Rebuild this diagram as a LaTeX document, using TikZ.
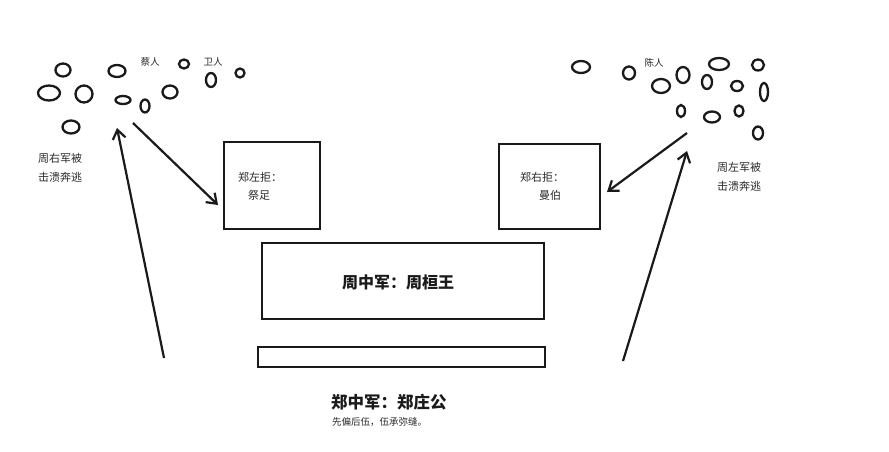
\documentclass[tikz,border=0pt]{standalone}
\usepackage{fontspec}
\setmainfont{Noto Sans CJK SC}
\usetikzlibrary{arrows.meta,shapes.geometric}
\definecolor{ink}{HTML}{1A1A1A}
\definecolor{txt}{HTML}{2A2A2A}
\tikzset{
  box/.style={draw=ink, line width=2.8pt, fill=white, inner sep=0pt},
  small/.style={font=\fontsize{11}{12}\selectfont, text=txt, inner sep=0pt},
  tiny/.style={font=\fontsize{9.5}{10}\selectfont, text=txt, inner sep=0pt},
  big/.style={font=\fontsize{16}{17}\selectfont\bfseries, text=ink, inner sep=0pt},
  troop/.style={draw=ink, line width=2.3pt},
  arr/.style={draw=ink, line width=2.2pt, -{Straight Barb[length=9pt,width=13pt,line width=2.2pt]}}
}
\begin{document}
\begin{tikzpicture}[x=1pt,y=-1pt]
\useasboundingbox[fill=white] (0,0) rectangle (889,451);
% boxes
\node[box, minimum width=96pt, minimum height=87pt] (zuo) at (272,185.5) {};
\node[box, minimum width=101pt, minimum height=85pt] (you) at (549.5,186.5) {};
\node[box, minimum width=282pt, minimum height=76pt] (zhou) at (403,281) {};
\node[box, minimum width=287pt, minimum height=20pt] (zheng) at (401.5,357) {};
% box texts
\node[small, anchor=west] (zuo1) at (238,177) {郑左拒：};
\node[small] (zuo2) at (259,195) {祭足};
\node[small, anchor=west] (you1) at (520,177) {郑右拒：};
\node[small] (you2) at (550,195) {曼伯};
\node[big] (zhoutxt) at (398,282) {周中军：周桓王};
\node[big, anchor=west, font=\fontsize{16.5}{17}\selectfont\bfseries] (zhengtxt) at (331,402) {郑中军：郑庄公};
\node[tiny, anchor=west] (zhengsub) at (332,422) {先偏后伍，伍承弥缝。};
% labels
\node[tiny] (cai) at (150,62) {蔡人};
\node[tiny] (wei) at (213,62) {卫人};
\node[tiny] (chen) at (654,63) {陈人};
\node[small] (zyou1) at (60,158) {周右军被};
\node[small] (zyou2) at (60,177) {击溃奔逃};
\node[small] (zzuo1) at (739,167) {周左军被};
\node[small] (zzuo2) at (739,186) {击溃奔逃};
% left troops
\draw[troop] (63,70) ellipse [x radius=7.5, y radius=6.5];
\draw[troop] (117,71) ellipse [x radius=8.5, y radius=6];
\draw[troop] (184,64) ellipse [x radius=5, y radius=4.5];
\draw[troop] (240,73) ellipse [x radius=4.5, y radius=4.5];
\draw[troop] (211,80) ellipse [x radius=5, y radius=7];
\draw[troop] (49,93) ellipse [x radius=11, y radius=7.5];
\draw[troop] (84,94) ellipse [x radius=8.5, y radius=8.5];
\draw[troop] (170,92) ellipse [x radius=7.5, y radius=6.5];
\draw[troop] (123,100) ellipse [x radius=7.5, y radius=4];
\draw[troop] (145,106) ellipse [x radius=4.5, y radius=6.5];
\draw[troop] (71,127) ellipse [x radius=8.5, y radius=6.5];
% right troops
\draw[troop] (581,67) ellipse [x radius=9, y radius=6];
\draw[troop] (629,73) ellipse [x radius=6, y radius=6.5];
\draw[troop] (661,86) ellipse [x radius=9, y radius=7];
\draw[troop] (683,75) ellipse [x radius=6.5, y radius=8];
\draw[troop] (719,64) ellipse [x radius=10, y radius=6];
\draw[troop] (758,65) ellipse [x radius=6, y radius=5.5];
\draw[troop] (707,82) ellipse [x radius=5, y radius=7];
\draw[troop] (737,86) ellipse [x radius=6, y radius=5];
\draw[troop] (764,92) ellipse [x radius=4, y radius=9];
\draw[troop] (681,111) ellipse [x radius=4, y radius=6];
\draw[troop] (712,117) ellipse [x radius=8, y radius=5.5];
\draw[troop] (739,111) ellipse [x radius=4.5, y radius=5.5];
\draw[troop] (758,133) ellipse [x radius=5, y radius=6.5];
% arrow ends
\coordinate (lb) at (164,358);
\coordinate (lt) at (117,128);
\coordinate (ls) at (133,123);
\coordinate (le) at (218,205);
\coordinate (rb) at (623,361);
\coordinate (rt) at (687,151);
\coordinate (rs) at (687,133);
\coordinate (re) at (607,192);
\draw[arr] (lb) -- (lt);
\draw[arr] (ls) -- (le);
\draw[arr] (rb) -- (rt);
\draw[arr] (rs) -- (re);
\end{tikzpicture}
\end{document}
